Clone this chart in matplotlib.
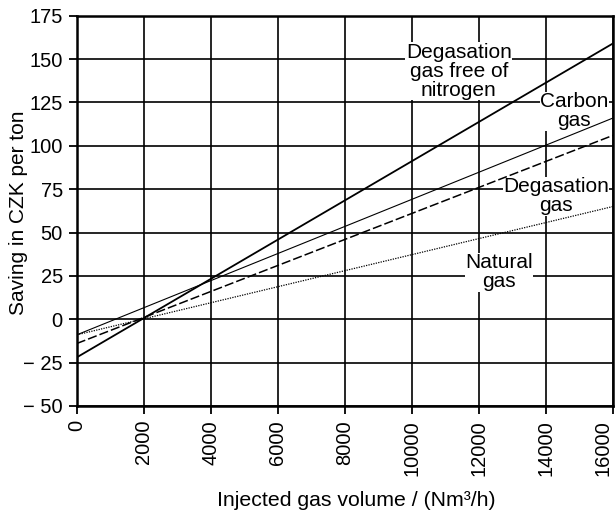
import matplotlib
matplotlib.use("Agg")
from matplotlib import rcParams
rcParams['font.family'] = ['Liberation Sans', 'DejaVu Sans']
import matplotlib.pyplot as plt

# gas volume range (Nm3/h) and saving at both ends (CZK per ton)
volume = [0, 16000]
saving_n2_free = [-22, 159]
saving_carbon = [-9, 116]
saving_degas = [-14, 106]
saving_natural = [-9, 65]

x_ticks = [0, 2000, 4000, 6000, 8000, 10000, 12000, 14000, 16000]
y_ticks = [-50, -25, 0, 25, 50, 75, 100, 125, 150, 175]
y_tick_labels = ["\u2212 50", "\u2212 25", "0", "25", "50", "75", "100", "125", "150", "175"]

labels = ["Degasation\ngas free of\nnitrogen", "Carbon\ngas", "Degasation\ngas", "Natural\ngas"]
label_pos = [(11400, 143), (14850, 120), (14300, 71), (12600, 27)]

fs = 14.5
fig = plt.figure(figsize=(6.15, 5.16), dpi=100)
ax = fig.add_axes([0.1247, 0.2132, 0.872, 0.7564])

ax.plot(volume, saving_n2_free, color='black', lw=1.3, zorder=5)
ax.plot(volume, saving_carbon, color='black', lw=0.8, zorder=5)
ax.plot(volume, saving_degas, color='black', lw=1.1, ls=(0, (6, 2)), zorder=5)
ax.plot(volume, saving_natural, color='black', lw=0.9, ls=(0, (1, 1)), zorder=5)

for txt, (px, py) in zip(labels, label_pos):
    ax.text(px, py, txt, ha='center', va='center', fontsize=15, linespacing=1.0,
            bbox=dict(facecolor='white', edgecolor='none', pad=0.3), zorder=4)

ax.set_xlim(0, 16000)
ax.set_ylim(-50, 175)
ax.set_xticks(x_ticks)
ax.set_xticklabels([str(v) for v in x_ticks], rotation=90, fontsize=fs)
ax.get_xticklabels()[-1].set_horizontalalignment('right')
ax.set_yticks(y_ticks)
ax.set_yticklabels(y_tick_labels, fontsize=fs)
ax.tick_params(direction='out', length=6, width=1.3, color='black', pad=4)
ax.grid(True, color='black', lw=1.2, zorder=1)
ax.set_axisbelow(True)
for s in ax.spines.values():
    s.set_linewidth(1.8)

ax.set_ylabel("Saving in CZK per ton", fontsize=15, va='center')
ax.yaxis.set_label_coords(-0.108, 0.495)
ax.set_xlabel("Injected gas volume / (Nm\u00b3/h)", fontsize=15.3, va='center')
ax.xaxis.set_label_coords(0.522, -0.243)

plt.savefig("out.png", dpi=100)
